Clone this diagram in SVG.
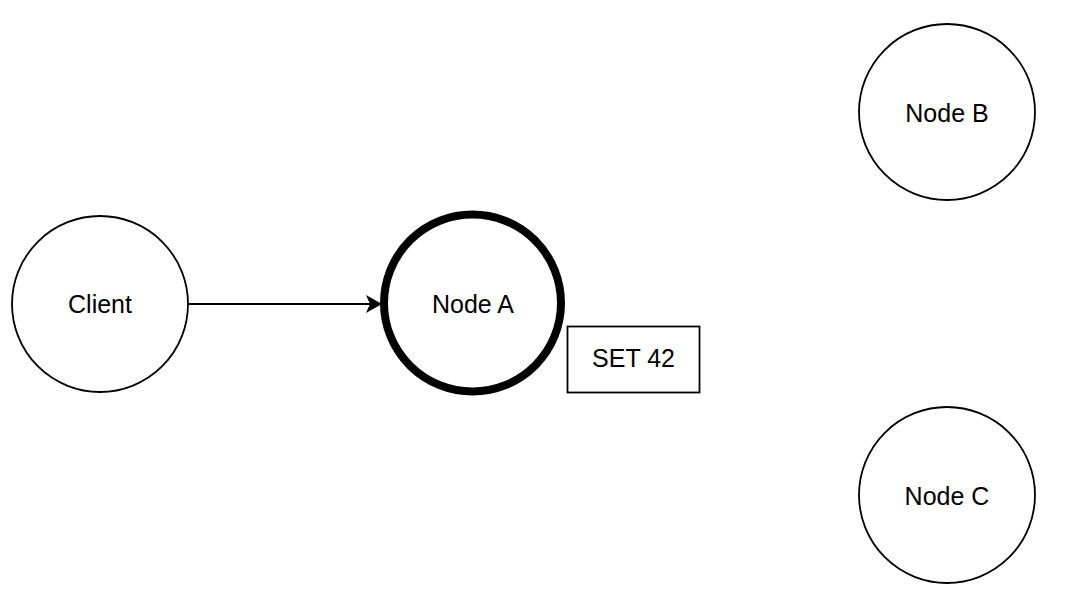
<svg xmlns="http://www.w3.org/2000/svg" width="1090" height="612" viewBox="0 0 1090 612">
  <style>
    .node { fill: #ffffff; stroke: #000000; stroke-width: 1.8; }
    .leader { stroke-width: 8; }
    .label { font-family: "Liberation Sans", Arial, Helvetica, sans-serif; font-size: 25px; fill: #000000; text-anchor: middle; }
    .edge { fill: none; stroke: #000000; stroke-width: 2; }
  </style>
  <defs>
    <marker id="arrow" viewBox="0 0 16 18" refX="16" refY="9" markerWidth="16" markerHeight="18" markerUnits="userSpaceOnUse" orient="auto">
      <path d="M0,0 L16,9 L0,18 L4,9 Z" fill="#000000"/>
    </marker>
  </defs>
  <rect width="1090" height="612" fill="#ffffff"/>

  <g id="connectors">
    <line class="edge" x1="188" y1="304" x2="382" y2="304" marker-end="url(#arrow)"/>
  </g>

  <g id="client">
    <circle class="node" cx="100" cy="304" r="88"/>
    <text class="label" x="100" y="313">Client</text>
  </g>

  <g id="node-a">
    <circle class="node leader" cx="472.5" cy="303" r="88.5"/>
    <text class="label" x="473" y="313">Node A</text>
  </g>

  <g id="set-42">
    <rect class="node" x="567.5" y="326.5" width="132" height="66"/>
    <text class="label" x="633.5" y="367">SET 42</text>
  </g>

  <g id="node-b">
    <circle class="node" cx="947" cy="112" r="88"/>
    <text class="label" x="947" y="122">Node B</text>
  </g>

  <g id="node-c">
    <circle class="node" cx="947" cy="495" r="88"/>
    <text class="label" x="947" y="505">Node C</text>
  </g>
</svg>
